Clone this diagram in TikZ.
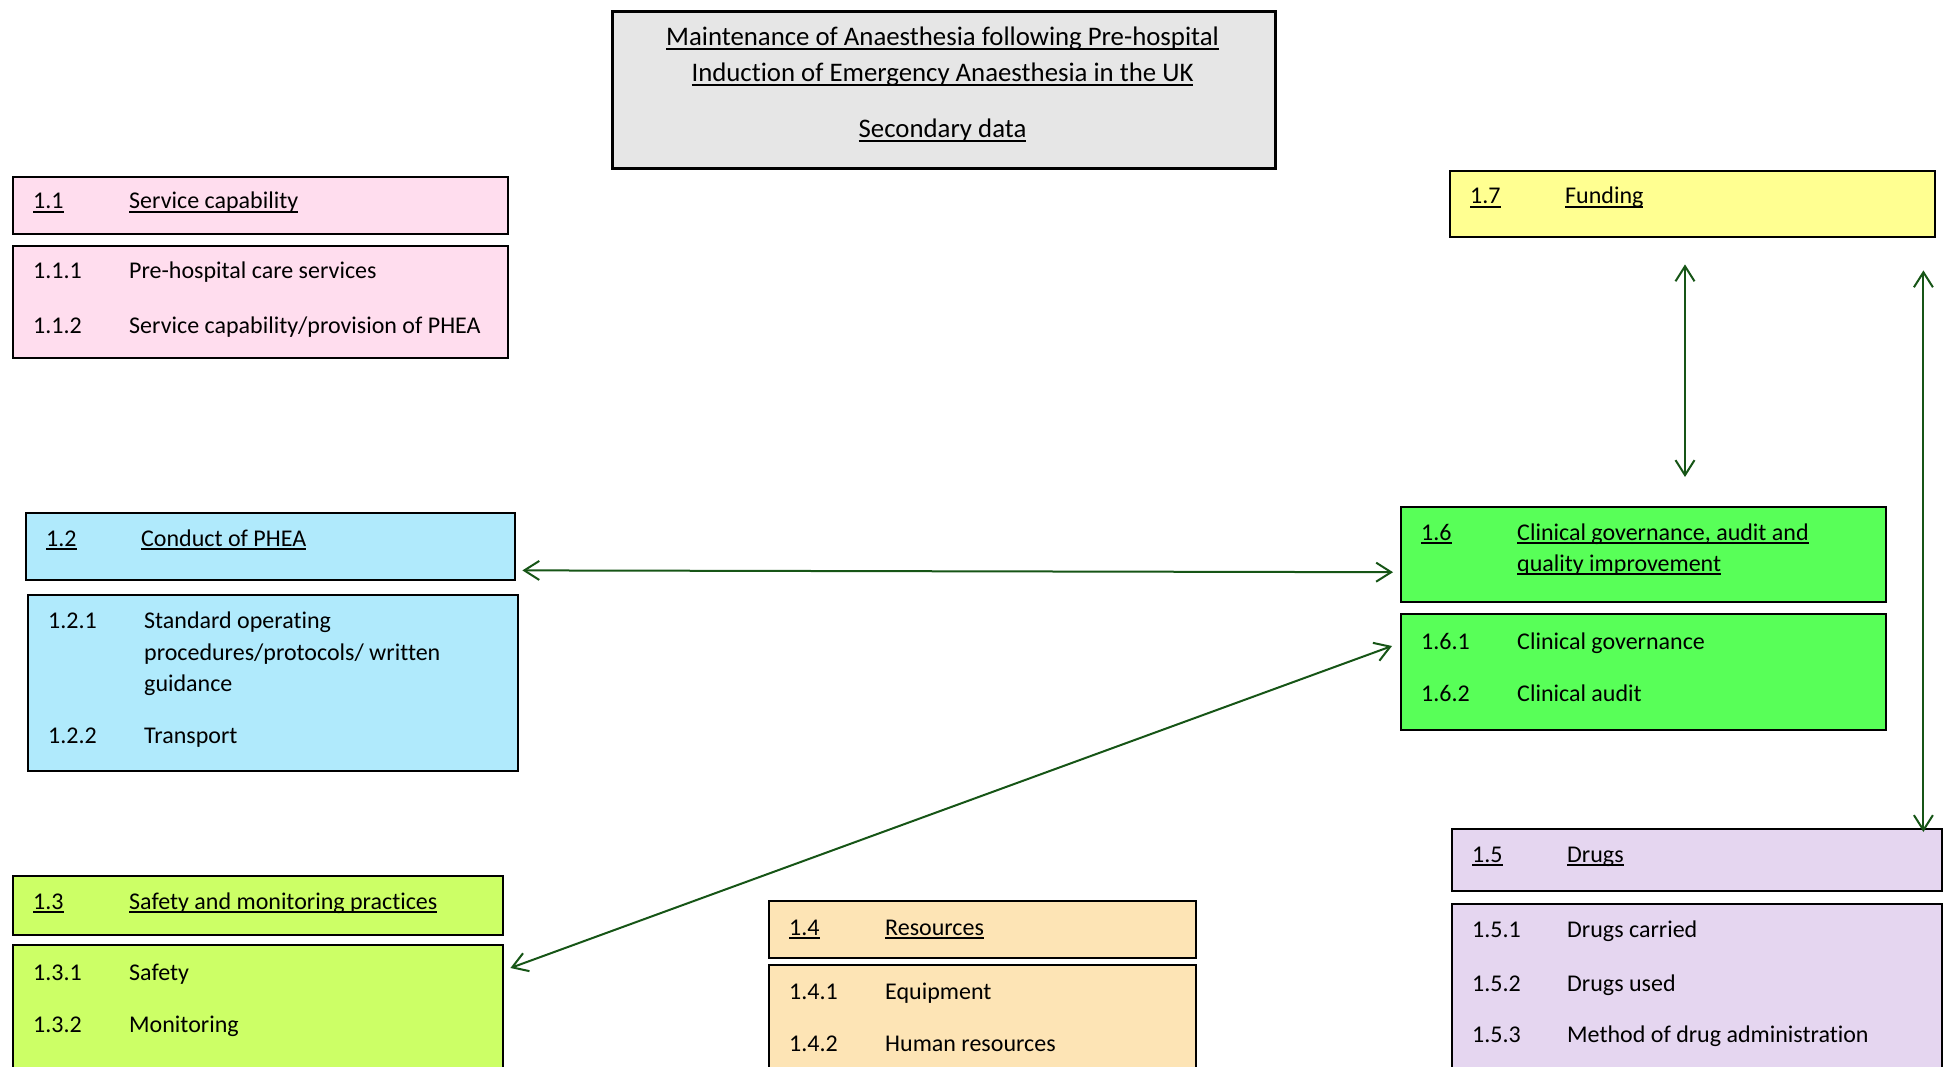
\documentclass[tikz,border=0pt]{standalone}
\usepackage{fontspec}
\setmainfont{Carlito}[Ligatures=NoCommon]
\usetikzlibrary{arrows.meta}
\definecolor{pinkc}{RGB}{255,221,238}
\definecolor{bluec}{RGB}{176,234,252}
\definecolor{limec}{RGB}{204,255,102}
\definecolor{orangec}{RGB}{253,228,181}
\definecolor{purplec}{RGB}{229,214,240}
\definecolor{greenc}{RGB}{88,255,88}
\definecolor{yellowc}{RGB}{255,255,145}
\definecolor{greyc}{RGB}{230,230,230}
\definecolor{linkgreen}{RGB}{22,85,22}
\newcommand\fs{\fontsize{24pt}{31.5pt}\selectfont}
\newcommand\tfs{\fontsize{26.8pt}{32pt}\selectfont}
\newcommand\uln[1]{\setbox0\hbox{#1}\rlap{\rule[-4pt]{\wd0}{1.8pt}}\box0}
\tikzset{barbtip/.tip={Straight Barb[length=15pt,width=19pt]}}
\begin{document}
\begin{tikzpicture}[x=1pt,y=-1pt,
  box/.style={draw=black,line width=2.4pt,inner sep=0pt,anchor=north west},
  txt/.style={anchor=base west,inner sep=0pt,font=\fs},
  ctxt/.style={anchor=base,inner sep=0pt,font=\tfs},
  link/.style={draw=linkgreen,line width=2pt,arrows={barbtip-barbtip}}]
\useasboundingbox (0,0) rectangle (1943,1067);
% boxes
\node[box,fill=greyc,line width=2.8pt,minimum width=663pt,minimum height=157pt] (title) at (611,10) {};
\node[box,fill=pinkc,minimum width=495pt,minimum height=57pt] (h11) at (12,176) {};
\node[box,fill=pinkc,minimum width=495pt,minimum height=112pt] (b11) at (12,245) {};
\node[box,fill=bluec,minimum width=489pt,minimum height=67pt] (h12) at (25,512) {};
\node[box,fill=bluec,minimum width=490pt,minimum height=176pt] (b12) at (27,594) {};
\node[box,fill=limec,minimum width=490pt,minimum height=59pt] (h13) at (12,875) {};
\node[box,fill=limec,minimum width=490pt,minimum height=146pt] (b13) at (12,944) {};
\node[box,fill=orangec,minimum width=427pt,minimum height=57pt] (h14) at (768,900) {};
\node[box,fill=orangec,minimum width=427pt,minimum height=126pt] (b14) at (768,964) {};
\node[box,fill=purplec,minimum width=490pt,minimum height=62pt] (h15) at (1451,828) {};
\node[box,fill=purplec,minimum width=490pt,minimum height=187pt] (b15) at (1451,903) {};
\node[box,fill=greenc,minimum width=485pt,minimum height=95pt] (h16) at (1400,506) {};
\node[box,fill=greenc,minimum width=485pt,minimum height=116pt] (b16) at (1400,613) {};
\node[box,fill=yellowc,minimum width=485pt,minimum height=66pt] (h17) at (1449,170) {};
% title text
\node[ctxt] (t1) at (942.5,46) {\uln{Maintenance of Anaesthesia following Pre-hospital}};
\node[ctxt] (t2) at (942.5,82) {\uln{Induction of Emergency Anaesthesia in the UK}};
\node[ctxt] (t3) at (942.5,138) {\uln{Secondary data}};
% 1.1
\node[txt] (h11n) at (33,209) {\uln{1.1}};
\node[txt] (h11t) at (129,209) {\uln{Service capability}};
\node[txt] (b11n1) at (33,279) {1.1.1};
\node[txt] (b11t1) at (129,279) {Pre-hospital care services};
\node[txt] (b11n2) at (33,333) {1.1.2};
\node[txt] (b11t2) at (129,333) {Service capability/provision of PHEA};
% 1.2
\node[txt] (h12n) at (46,546) {\uln{1.2}};
\node[txt] (h12t) at (141,546) {\uln{Conduct of PHEA}};
\node[txt] (b12n1) at (48,628) {1.2.1};
\node[txt] (b12t1a) at (144,628) {Standard operating};
\node[txt] (b12t1b) at (144,660) {procedures/protocols/ written};
\node[txt] (b12t1c) at (144,691) {guidance};
\node[txt] (b12n2) at (48,743) {1.2.2};
\node[txt] (b12t2) at (144,743) {Transport};
% 1.3
\node[txt] (h13n) at (33,909) {\uln{1.3}};
\node[txt] (h13t) at (129,909) {\uln{Safety and monitoring practices}};
\node[txt] (b13n1) at (33,980) {1.3.1};
\node[txt] (b13t1) at (129,980) {Safety};
\node[txt] (b13n2) at (33,1032) {1.3.2};
\node[txt] (b13t2) at (129,1032) {Monitoring};
% 1.4
\node[txt] (h14n) at (789,935) {\uln{1.4}};
\node[txt] (h14t) at (885,935) {\uln{Resources}};
\node[txt] (b14n1) at (789,999) {1.4.1};
\node[txt] (b14t1) at (885,999) {Equipment};
\node[txt] (b14n2) at (789,1051) {1.4.2};
\node[txt] (b14t2) at (885,1051) {Human resources};
% 1.5
\node[txt] (h15n) at (1472,862) {\uln{1.5}};
\node[txt] (h15t) at (1567,862) {\uln{Drugs}};
\node[txt] (b15n1) at (1472,937) {1.5.1};
\node[txt] (b15t1) at (1567,937) {Drugs carried};
\node[txt] (b15n2) at (1472,991) {1.5.2};
\node[txt] (b15t2) at (1567,991) {Drugs used};
\node[txt] (b15n3) at (1472,1042) {1.5.3};
\node[txt] (b15t3) at (1567,1042) {Method of drug administration};
% 1.6
\node[txt] (h16n) at (1421,540) {\uln{1.6}};
\node[txt] (h16ta) at (1517,540) {\uln{Clinical governance, audit and}};
\node[txt] (h16tb) at (1517,571) {\uln{quality improvement}};
\node[txt] (b16n1) at (1421,649) {1.6.1};
\node[txt] (b16t1) at (1517,649) {Clinical governance};
\node[txt] (b16n2) at (1421,701) {1.6.2};
\node[txt] (b16t2) at (1517,701) {Clinical audit};
% 1.7
\node[txt] (h17n) at (1470,204) {\uln{1.7}};
\node[txt] (h17t) at (1565,204) {\uln{Funding}};
% connectors
\draw[link] ([xshift=6pt,yshift=11pt]h12.south east) -- ([xshift=-7pt,yshift=-17.5pt]h16.west);
\draw[link] ([xshift=6pt,yshift=-24pt]b13.north east) -- ([xshift=-8pt,yshift=-33pt]b16.north west);
\draw[link] ([xshift=236pt,yshift=-26pt]h17.south west) -- ([xshift=285pt,yshift=29pt]h16.north west);
\draw[link] ([xshift=-13pt,yshift=-32pt]h17.south east) -- ([xshift=-20pt,yshift=-4pt]h15.north east);
\end{tikzpicture}
\end{document}
